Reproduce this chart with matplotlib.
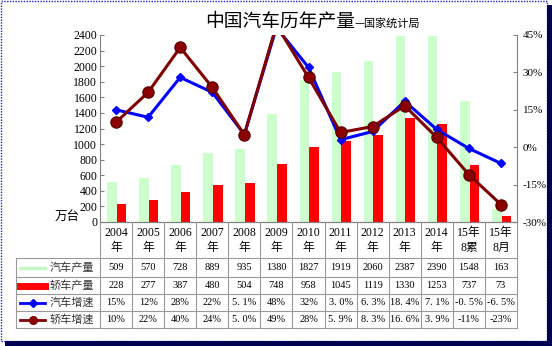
import numpy as np
import matplotlib
matplotlib.use("Agg")
import matplotlib.pyplot as plt
from matplotlib.patches import Rectangle
from matplotlib.lines import Line2D
import matplotlib.transforms as mtransforms

plt.rcParams['font.family'] = ['Liberation Serif', 'Noto Sans CJK SC', 'DejaVu Sans']

years = ["2004\n年", "2005\n年", "2006\n年", "2007\n年", "2008\n年", "2009\n年",
         "2010\n年", "2011\n年", "2012\n年", "2013\n年", "2014\n年",
         "15年\n8累", "15年\n8月"]
car_output = [509, 570, 728, 889, 935, 1380, 1827, 1919, 2060, 2387, 2390, 1548, 163]
sedan_output = [228, 277, 387, 480, 504, 748, 958, 1045, 1119, 1330, 1253, 737, 73]
car_growth = [15, 12, 28, 22, 5.1, 48, 32, 3.0, 6.3, 18.4, 7.1, -0.5, -6.5]
sedan_growth = [10, 22, 40, 24, 5.0, 49, 28, 5.9, 8.3, 16.6, 3.9, -11, -23]
car_growth_txt = ["15%", "12%", "28%", "22%", "5. 1%", "48%", "32%", "3. 0%", "6. 3%",
                  "18. 4%", "7. 1%", "-0. 5%", "-6. 5%"]
sedan_growth_txt = ["10%", "22%", "40%", "24%", "5. 0%", "49%", "28%", "5. 9%", "8. 3%",
                    "16. 6%", "3. 9%", "-11%", "-23%"]

W, H = 552, 346
fig = plt.figure(figsize=(W / 100, H / 100), dpi=100)

# plot area in pixels
L, R, T, B = 100, 517, 35, 222
ax = fig.add_axes([L / W, 1 - B / H, (R - L) / W, (B - T) / H])
ax2 = ax.twinx()

n = len(years)
x = np.arange(n)
bw = 0.3
ax.bar(x - bw / 2 + 0.02, car_output, bw, color='#CCFFCC', zorder=1)
ax.bar(x + bw / 2 + 0.02, sedan_output, bw, color='#FF0000', zorder=2)
ax.set_xlim(-0.5, n - 0.5)
ax.set_ylim(0, 2400)
ax.set_yticks(range(0, 2401, 200))
ax.set_xticks([])

ax2.plot(x, car_growth, color='#0000FF', lw=2.2, marker='D', ms=4.5,
         markerfacecolor='#0000FF', zorder=3)
ax2.plot(x, sedan_growth, color='#800000', lw=2.2, marker='o', ms=8,
         markerfacecolor='#8B0000', markeredgecolor='#600000', zorder=4)
ax2.set_ylim(-30, 45)
ax2.set_yticks(range(-30, 46, 15))
ax2.set_yticklabels(["-30%", "-15%", "0%", "15%", "30%", "45%"])

for a in (ax, ax2):
    a.spines['top'].set_visible(False)
    a.spines['left'].set_color('#808080')
    a.spines['right'].set_color('#808080')
    a.spines['bottom'].set_color('#808080')
    a.tick_params(direction='in', length=3, color='#808080', labelsize=8.5, pad=2)
ax.spines['right'].set_visible(False)
ax2.spines['left'].set_visible(False)
ax2.tick_params(axis='y', labelsize=8, pad=4)

fig.text(205 / W, 1 - 21 / H, "中国汽车历年产量", family='Noto Sans CJK SC',
         fontsize=13.5, ha='left', va='center')
fig.text(354 / W, 1 - 23 / H, "—国家统计局", family='Noto Sans CJK SC',
         fontsize=8, ha='left', va='center')
fig.text(67 / W, 1 - 216 / H, "万台", family='Noto Sans CJK SC',
         fontsize=9, ha='center', va='center')

# data table below the plot
tr = mtransforms.blended_transform_factory(ax.transData, fig.transFigure)
def fy(p):
    return 1 - p / H
def px(p):
    return -0.5 + (p - L) / ((R - L) / n)

rows = [B, 258, 277, 294, 311, 328]
grid = dict(color='#999999', lw=0.8, transform=tr, clip_on=False)
x_left = px(16)
for i in range(n + 1):
    fig.add_artist(Line2D([i - 0.5, i - 0.5], [fy(rows[0]), fy(rows[-1])], **grid))
fig.add_artist(Line2D([x_left, x_left], [fy(rows[1]), fy(rows[-1])], **grid))
for r in rows[1:]:
    fig.add_artist(Line2D([x_left, n - 0.5], [fy(r), fy(r)], **grid))

for i, lab in enumerate(years):
    top, bot = lab.split("\n")
    fig.text(i, fy(233), top, transform=tr, ha='center', va='center', fontsize=8.5)
    fig.text(i, fy(248), bot, transform=tr, ha='center', va='center', fontsize=8.5)

table_rows = [
    ("汽车产量", [str(v) for v in car_output]),
    ("轿车产量", [str(v) for v in sedan_output]),
    ("汽车增速", car_growth_txt),
    ("轿车增速", sedan_growth_txt),
]
for k, (name, vals) in enumerate(table_rows):
    yc = fy((rows[k + 1] + rows[k + 2]) / 2)
    for i, v in enumerate(vals):
        fig.text(i, yc, v, transform=tr, ha='center', va='center', fontsize=7.5)
    fig.text(px(72), yc, name, transform=tr, ha='center', va='center',
             fontsize=8, family='Noto Sans CJK SC', color='#333333')
    kx = [px(20), px(45)]
    if k == 0:
        fig.add_artist(Line2D(kx, [yc, yc], color='#C4F7C4', lw=2.5,
                              transform=tr, clip_on=False))
    elif k == 1:
        fig.add_artist(Line2D(kx, [yc, yc], color='#FF0000', lw=5,
                              transform=tr, clip_on=False))
    elif k == 2:
        fig.add_artist(Line2D(kx, [yc, yc], color='#0000FF', lw=2, transform=tr, clip_on=False))
        fig.add_artist(Line2D([np.mean(kx)], [yc], color='#0000FF', marker='D', ms=4,
                              transform=tr, clip_on=False))
    else:
        fig.add_artist(Line2D(kx, [yc, yc], color='#800000', lw=2, transform=tr, clip_on=False))
        fig.add_artist(Line2D([np.mean(kx)], [yc], color='#800000', marker='o', ms=5.5,
                              markerfacecolor='#8B0000', transform=tr, clip_on=False))

# frame with shadow
fig.add_artist(Rectangle((1 / W, 1 - 341 / H), 546 / W, 340 / H, transform=fig.transFigure,
                         fill=False, edgecolor='#2020CC', lw=1, ls=(0, (1, 1))))
fig.add_artist(Rectangle((547 / W, 0), 5 / W, 1 - 5 / H, transform=fig.transFigure,
                         facecolor='#000050', edgecolor='none'))
fig.add_artist(Rectangle((5 / W, 0), 547 / W, 5 / H, transform=fig.transFigure,
                         facecolor='#000050', edgecolor='none'))

fig.savefig("out.png", dpi=100)
